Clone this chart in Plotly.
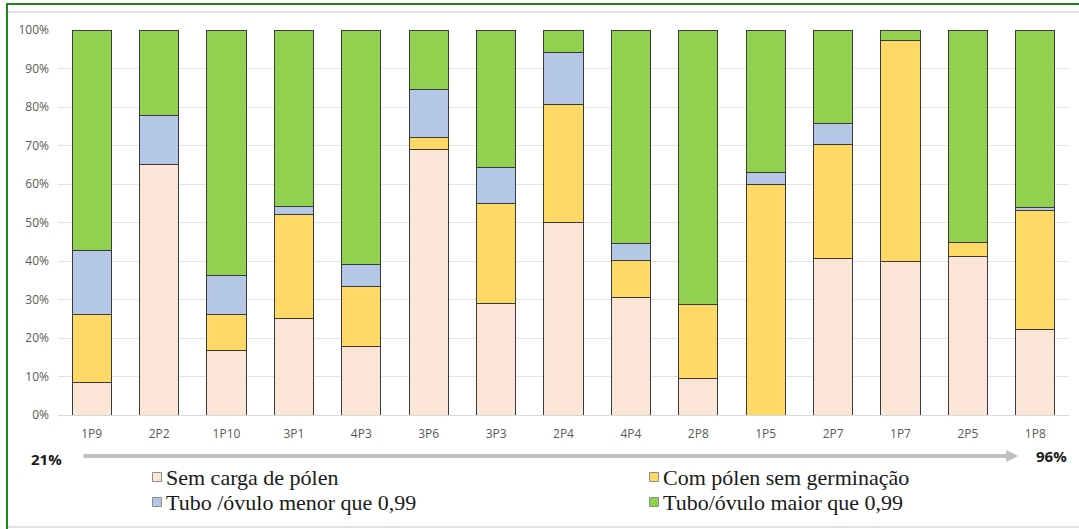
import plotly.graph_objects as go

# Stacked 100% bars: pollen / tube outcome per plant
categories = ["1P9", "2P2", "1P10", "3P1", "4P3", "3P6", "3P3", "2P4",
              "4P4", "2P8", "1P5", "2P7", "1P7", "2P5", "1P8"]

sem_carga = [8.4, 65.1, 16.7, 25.1, 17.8, 68.9, 29.0, 49.9,
             30.5, 9.6, 0.0, 40.6, 40.0, 41.3, 22.1]
com_polen = [17.6, 0.0, 9.5, 27.0, 15.5, 3.3, 25.9, 30.8,
             9.7, 19.0, 59.9, 29.6, 57.4, 3.5, 31.1]
tubo_menor = [16.8, 12.6, 10.1, 2.0, 5.8, 12.3, 9.5, 13.5,
              4.3, 0.0, 3.0, 5.4, 0.0, 0.0, 0.8]
tubo_maior = [57.2, 22.3, 63.7, 45.9, 60.9, 15.5, 35.6, 5.8,
              55.5, 71.4, 37.1, 24.4, 2.6, 55.2, 46.0]

series_names = ["Sem carga de pólen", "Com pólen sem germinação",
                "Tubo /óvulo menor que 0,99", "Tubo/óvulo maior que 0,99"]
series_values = [sem_carga, com_polen, tubo_menor, tubo_maior]
series_colors = ["#FBE5D6", "#FFD966", "#B4C7E7", "#92D050"]

range_labels = ["21%", "96%"]
y_ticks = [0, 10, 20, 30, 40, 50, 60, 70, 80, 90, 100]

W, H = 1079, 529
L, R, T, B = 58, 10, 30, 114
PW, PH = W - L - R, H - T - B


def px(x):
    return (x - L) / PW


def py(y):
    return (H - B - y) / PH


fig = go.Figure()
for name, vals, col in zip(series_names, series_values, series_colors):
    fig.add_trace(go.Bar(
        x=categories, y=vals, name=name, width=0.58,
        marker=dict(color=col, line=dict(color="#3A3A3A", width=1)),
        showlegend=False,
    ))

shapes = []
annotations = []

# frame lines
shapes.append(dict(type="line", xref="paper", yref="paper",
                   x0=px(6), x1=px(W), y0=py(4), y1=py(4),
                   line=dict(color="#1A8A1A", width=2)))
shapes.append(dict(type="line", xref="paper", yref="paper",
                   x0=px(7), x1=px(7), y0=py(4), y1=py(H),
                   line=dict(color="#1A8A1A", width=2)))
shapes.append(dict(type="line", xref="paper", yref="paper",
                   x0=px(8), x1=px(W), y0=py(12), y1=py(12),
                   line=dict(color="#D9D9D9", width=1.5)))
shapes.append(dict(type="line", xref="paper", yref="paper",
                   x0=px(8), x1=px(W), y0=py(527), y1=py(527),
                   line=dict(color="#D9D9D9", width=1.5)))

# range arrow
annotations.append(dict(xref="paper", yref="paper", axref="pixel", ayref="pixel",
                        x=px(1018), y=py(456), ax=-(1018 - 82), ay=0,
                        text="", showarrow=True, arrowhead=2, arrowsize=0.6,
                        arrowwidth=4, arrowcolor="#BFBFBF"))
annotations.append(dict(xref="paper", yref="paper", x=px(46), y=py(459),
                        text="<b>" + range_labels[0] + "</b>", showarrow=False,
                        xanchor="center", yanchor="middle",
                        font=dict(family="Open Sans", size=15, color="#1A1A1A")))
annotations.append(dict(xref="paper", yref="paper", x=px(1051), y=py(456),
                        text="<b>" + range_labels[1] + "</b>", showarrow=False,
                        xanchor="center", yanchor="middle",
                        font=dict(family="Open Sans", size=15, color="#1A1A1A")))

# legend
legend_pos = [(157, 477), (654, 477), (157, 502), (654, 502)]
for (cx, cy), name, col in zip(legend_pos, series_names, series_colors):
    shapes.append(dict(type="rect", xref="paper", yref="paper",
                       x0=px(cx - 4.5), x1=px(cx + 4.5), y0=py(cy - 4.5), y1=py(cy + 4.5),
                       fillcolor=col, line=dict(color="#8C8C8C", width=1)))
    annotations.append(dict(xref="paper", yref="paper", x=px(cx + 7), y=py(cy),
                            text=name, showarrow=False, xanchor="left", yanchor="middle",
                            font=dict(family="Liberation Serif", size=22, color="#1A1A1A")))

fig.update_layout(
    barmode="stack",
    width=W, height=H,
    margin=dict(l=L, r=R, t=T, b=B),
    paper_bgcolor="white", plot_bgcolor="white",
    bargap=0.42,
    shapes=shapes, annotations=annotations,
    xaxis=dict(type="category", range=[-0.5, len(categories) - 0.5],
               showgrid=False, showline=False, zeroline=False, ticks="",
               tickfont=dict(family="Open Sans", size=12, color="#595959"),
               ticklabelstandoff=10),
    yaxis=dict(range=[0, 100], tickvals=y_ticks,
               ticktext=[f"{v}%" for v in y_ticks],
               showgrid=True, gridcolor="#E3E3E3", gridwidth=1,
               zeroline=True, zerolinecolor="#D9D9D9", zerolinewidth=1,
               showline=False, ticks="",
               tickfont=dict(family="Open Sans", size=12, color="#595959"),
               ticklabelstandoff=8),
    font=dict(family="Open Sans"),
)

fig.write_html("out.html")
